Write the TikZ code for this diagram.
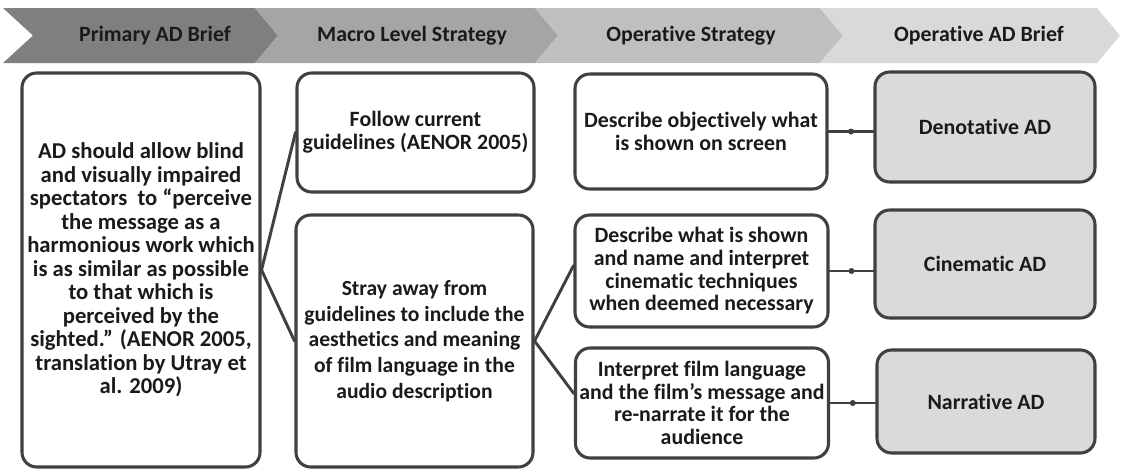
\documentclass[tikz,border=0pt]{standalone}
\usepackage{fontspec}
\setmainfont{Carlito}[Ligatures=NoCommon]
\definecolor{edge}{HTML}{404040}
\definecolor{ink}{HTML}{1A1A1A}
\definecolor{adfill}{HTML}{DADADA}
\definecolor{chevA}{HTML}{7F7F7F}
\definecolor{chevB}{HTML}{A5A5A5}
\definecolor{chevC}{HTML}{BFBFBF}
\definecolor{chevD}{HTML}{D9D9D9}
\begin{document}
\begin{tikzpicture}[x=0.75pt, y=-0.75pt, line join=round, line cap=round,
    font=\bfseries\fontsize{16.4}{17}\selectfont,
    box/.style={draw=edge, line width=2.3pt, rounded corners=11pt, fill=white, text=ink, align=center, inner sep=2pt},
    adbox/.style={box, fill=adfill},
    link/.style={draw=edge, line width=2.2pt},
    dot/.style={circle, fill=edge, inner sep=0pt, minimum size=4.5pt}]
    \useasboundingbox (0,0) rectangle (1122,469);
    % chevron band on top
    \fill[chevA] (3,8)--(255,8)--(278,35.5)--(255,63)--(3,63)--(33,35.5)--cycle;
    \fill[chevB] (255,8)--(535,8)--(558,35.5)--(535,63)--(255,63)--(278,35.5)--cycle;
    \fill[chevC] (535,8)--(820,8)--(843,35.5)--(820,63)--(535,63)--(558,35.5)--cycle;
    \fill[chevD] (820,8)--(1097,8)--(1120,35.5)--(1097,63)--(820,63)--(843,35.5)--cycle;
    \node[text=ink] (hbrief) at (155,36) {Primary AD Brief};
    \node[text=ink] (hmacro) at (412,36) {Macro Level Strategy};
    \node[text=ink] (hoper) at (691,36) {Operative Strategy};
    \node[text=ink] (hopbrief) at (979,36) {Operative AD Brief};
    % column 1
    \node[box, minimum width=178.5pt, minimum height=295.5pt, font=\bfseries\fontsize{17}{17.6}\selectfont] (brief) at (141,270)
        {AD should allow blind\\and visually impaired\\spectators\ \ to “perceive\\the message as a\\harmonious work which\\is as similar as possible\\to that which is\\perceived by the\\sighted.” (AENOR 2005,\\translation by Utray et\\al. 2009)};
    % column 2
    \node[box, minimum width=177.75pt, minimum height=89.25pt] (follow) at (415.5,132.5)
        {Follow current\\guidelines (AENOR 2005)};
    \node[box, minimum width=177.75pt, minimum height=189pt, font=\bfseries\fontsize{16.2}{19.2}\selectfont] (stray) at (414.5,341)
        {Stray away from\\guidelines to include the\\aesthetics and meaning\\of film language in the\\audio description};
    % column 3
    \node[box, minimum width=189pt, minimum height=86.25pt] (objective) at (701,131.5)
        {Describe objectively what\\is shown on screen};
    \node[box, minimum width=189.75pt, minimum height=84pt] (shown) at (701.5,271)
        {Describe what is shown\\and name and interpret\\cinematic techniques\\when deemed necessary};
    \node[box, minimum width=189.75pt, minimum height=82.5pt] (interp) at (702,403)
        {Interpret film language\\and the film’s message and\\re-narrate it for the\\audience};
    % column 4
    \node[adbox, minimum width=165pt, minimum height=82.5pt] (denot) at (985,127) {Denotative AD};
    \node[adbox, minimum width=165pt, minimum height=81pt] (cinem) at (985,264) {Cinematic AD};
    \node[adbox, minimum width=163.5pt, minimum height=77.25pt] (narr) at (986,401.5) {Narrative AD};
    % connectors
    \draw[link] (brief.east) -- (follow.west);
    \draw[link] (brief.east) -- (stray.west);
    \draw[link] (stray.east) -- ([yshift=4pt]shown.west);
    \draw[link] (stray.east) -- ([yshift=7pt]interp.west);
    \draw[link] (objective.east) -- node[dot]{} (objective.east -| denot.west);
    \draw[link] (shown.east) -- node[dot]{} (shown.east -| cinem.west);
    \draw[link] (interp.east) -- node[dot]{} (interp.east -| narr.west);
\end{tikzpicture}
\end{document}
